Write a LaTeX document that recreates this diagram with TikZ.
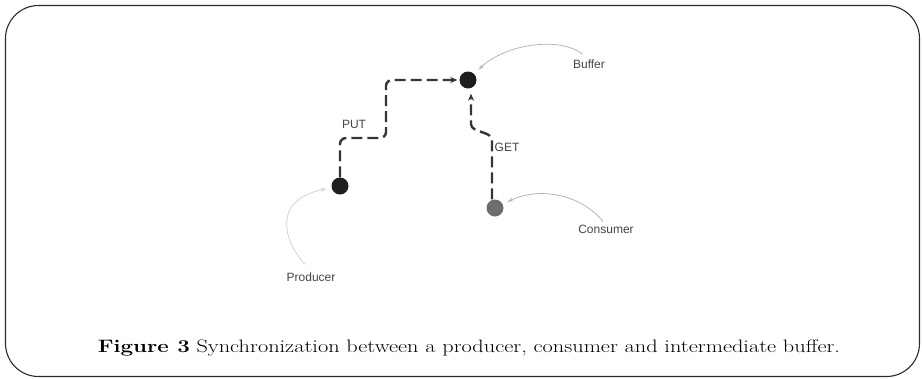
\documentclass[tikz,border=0pt]{standalone}
\usepackage{fontspec}
\newfontfamily\labelfont{Liberation Sans}
\usetikzlibrary{arrows.meta}
\definecolor{ink}{HTML}{1E1E1E}
\definecolor{framecol}{HTML}{2A2A2A}
\definecolor{labelgrey}{HTML}{454545}
\definecolor{calloutgrey}{HTML}{B4B4B4}
\definecolor{faintgrey}{HTML}{D2D2D2}
\definecolor{consgrey}{HTML}{6E6E6E}
\begin{document}
\begin{tikzpicture}[x=1pt,y=-1pt,
  dot/.style={circle,inner sep=0pt,minimum size=16pt,fill=ink},
  lbl/.style={font=\labelfont\fontsize{12}{14}\selectfont,text=labelgrey,inner sep=0pt},
  flow/.style={draw=ink!90,line width=2.4pt,dash pattern=on 11pt off 5pt,
    -{Stealth[length=7pt,width=6pt]}},
  callout/.style={draw=calloutgrey,line width=0.8pt,
    -{Stealth[length=6pt,width=3.5pt]}}]
\useasboundingbox (0,0) rectangle (922,378);

% rounded frame
\draw[framecol,line width=1.1pt,rounded corners=33pt] (5.5,5.5) rectangle (919.5,376.5);

% the three places
\node[dot,minimum width=17pt,minimum height=15pt] (buf) at (468,80) {};
\node[dot,minimum width=17pt,minimum height=15pt] (prod) at (340,186) {};
\node[dot,fill=consgrey,minimum size=17pt] (cons) at (495,208) {};

% names of the places
\node[lbl] (buflab) at (589,64) {Buffer};
\node[lbl] (conslab) at (606,229) {Consumer};
\node[lbl] (prodlab) at (311,277) {Producer};

% operation labels
\node[lbl] (putlab) at (354,124) {PUT};
\node[lbl] (getlab) at (507,147) {GET};

% PUT: producer to buffer
\coordinate (putbend) at (386,138);
\draw[flow,rounded corners=6pt,shorten >=2pt]
  (prod.north) |- (putbend) |- (buf.west);

% GET: consumer to buffer
\coordinate (getlow) at (492,140);
\coordinate (gethigh) at (471,124);
\draw[flow,shorten >=5pt]
  (getlow |- cons.north) -- (getlow)
  .. controls (492,131) and (471,133) .. (gethigh)
  -- (gethigh |- buf.south);

% callout arrows from the names
\draw[callout,shorten >=6pt] (buflab.north) ++(-6,-5)
  .. controls (560,36) and (505,44) .. (buf);
\draw[callout,shorten >=5pt] (conslab.north) ++(-3,-3)
  .. controls (582,195) and (540,186) .. (cons);
\draw[callout,draw=faintgrey,shorten >=5pt] (prodlab.north) ++(-6,-8)
  .. controls (283,240) and (272,200) .. (prod);

% caption
\node[anchor=base,inner sep=0pt] (caption) at (469,352)
  {\scalebox{1.24}[1]{\fontsize{18}{20}\selectfont\textbf{Figure 3} Synchronization between a producer, consumer and intermediate buffer.}};
\end{tikzpicture}
\end{document}
